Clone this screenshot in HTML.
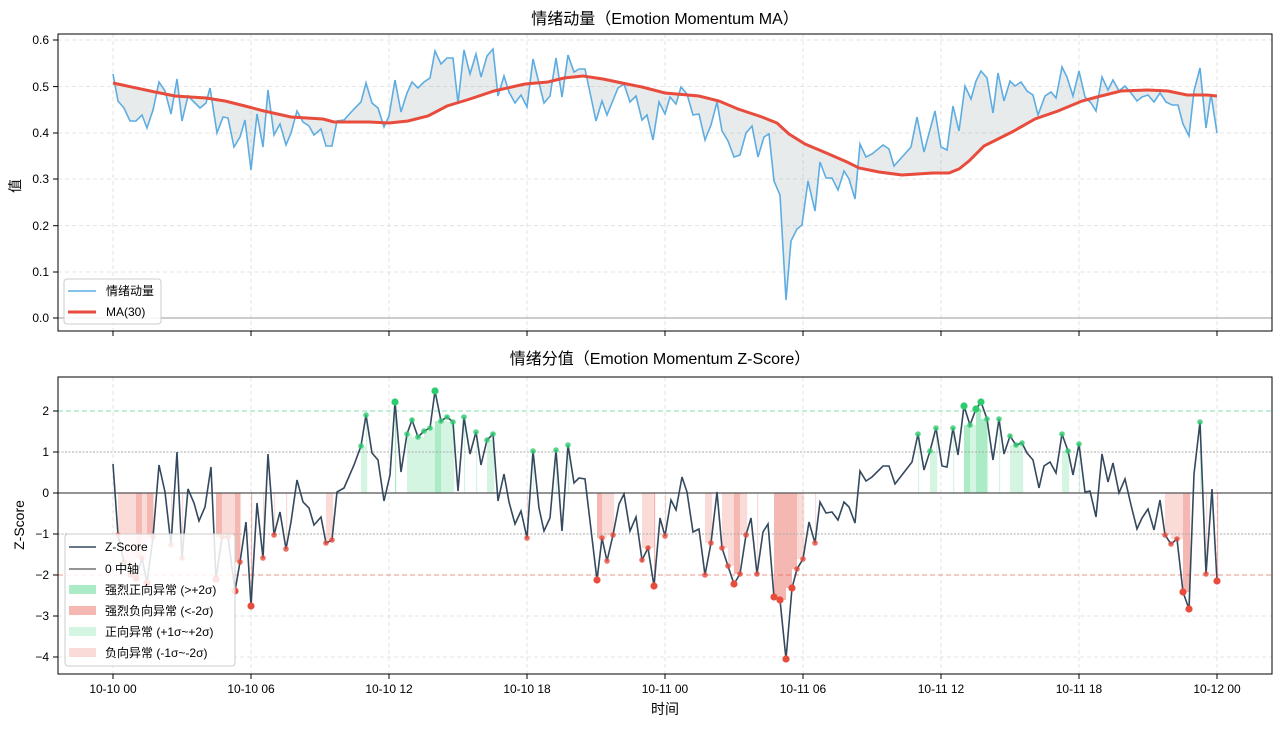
<!DOCTYPE html>
<html><head><meta charset="utf-8"><style>
body{margin:0;background:#fff;}
svg text{font-family:"Liberation Sans","Noto Sans CJK SC",sans-serif;fill:#000;}
</style></head><body>
<svg id="s" width="1280" height="727" xmlns="http://www.w3.org/2000/svg">
<rect width="1280" height="727" fill="#fff"/>
<g stroke="#ddd" stroke-dasharray="4,3" stroke-width="0.8">
<line x1="58" x2="1272" y1="40" y2="40"/><line x1="58" x2="1272" y1="86.6" y2="86.6"/><line x1="58" x2="1272" y1="133" y2="133"/><line x1="58" x2="1272" y1="179" y2="179"/><line x1="58" x2="1272" y1="225.7" y2="225.7"/><line x1="58" x2="1272" y1="272" y2="272"/>
<line x1="113" x2="113" y1="34" y2="331"/><line x1="251" x2="251" y1="34" y2="331"/><line x1="389" x2="389" y1="34" y2="331"/><line x1="527" x2="527" y1="34" y2="331"/><line x1="665" x2="665" y1="34" y2="331"/><line x1="803" x2="803" y1="34" y2="331"/><line x1="941" x2="941" y1="34" y2="331"/><line x1="1079" x2="1079" y1="34" y2="331"/><line x1="1217" x2="1217" y1="34" y2="331"/>
</g>
<line x1="58" x2="1272" y1="318" y2="318" stroke="#999" stroke-width="1"/>
<polygon id="fillTop" fill="#95a5a6" fill-opacity="0.22" points=""/>
<polyline id="blue" fill="none" stroke="#5dade2" stroke-width="1.6" points="113,74 118,101 124,108 130,121 136,121 142,115 147,128 153,110 159,82 165,91 171,114 177,79 182,121 188,96 194,102 200,108 206,103 210,88 217,133 223,117 228,118 234,147 240,137 245,120 251,170 257,114 263,147 268,90 274,135 280,124 286,145 291,133 297,111 303,122 309,126 314,135 321,129 326,146 332,146 337,121 344,120 354,109 361,102 366,83 372,103 378,108 384,127 389,116 395,80 401,112 407,93 412,82 418,88 424,82 430,78 435,51 441,64 447,58 453,58 458,103 464,50 470,74 476,54 481,77 487,56 493,49 498,96 504,76 509,92 515,103 521,95 527,107 533,59 544,103 550,96 556,58 562,97 568,55 574,72 579,69 585,69 596,121 602,101 607,115 618,88 624,84 630,102 636,96 642,120 647,115 653,140 659,102 665,114 670,97 676,104 681,87 687,94 693,115 699,114 705,140 711,125 717,102 722,131 728,141 734,157 740,155 746,133 752,126 758,157 764,137 769,134 774,181 780,195 786,300 791,241 797,229 802,225 808,181 815,211 820,162 826,178 832,178 838,190 844,171 849,179 855,199 860,144 866,157 872,154 883,145 889,149 894,166 911,147 917,117 924,152 935,111 941,147 947,150 953,106 959,131 965,86 971,99 976,81 981,71 987,78 993,113 998,73 1004,101 1010,81 1015,86 1021,82 1027,91 1033,95 1038,115 1045,96 1051,92 1056,98 1062,67 1067,77 1073,96 1079,71 1085,97 1091,103 1096,111 1102,77 1108,90 1113,80 1119,91 1125,86 1131,93 1137,101 1142,97 1148,95 1154,102 1160,93 1166,102 1172,105 1178,105 1183,124 1189,136 1194,91 1200,68 1206,128 1211,94 1217,133"/>
<polyline id="red" fill="none" stroke="#e74c3c" stroke-width="3" points="113,83 155,92 175,96 206,98 225,101 245,106 264,111 291,117 323,119 334,122 369,122 389,123 408,121 428,116 447,106 470,99 494,91 525,84 548,82 564,78 583,76 603,79 622,83 642,87 665,93 699,96 719,101 738,109 762,117 777,123 789,134 805,144 824,152 847,162 859,168 879,172 902,175 933,173 949,173 959,169 969,161 984,146 1012,132 1035,119 1058,111 1082,101 1097,97 1121,91 1148,90 1168,91 1187,95 1207,95 1217,96"/>
<rect x="58" y="34" width="1214" height="297" fill="none" stroke="#000" stroke-width="1"/>
<g font-size="12" text-anchor="end">
<text x="49" y="44">0.6</text><text x="49" y="91">0.5</text><text x="49" y="137">0.4</text><text x="49" y="183">0.3</text><text x="49" y="230">0.2</text><text x="49" y="276">0.1</text><text x="49" y="322">0.0</text>
</g>
<g stroke="#000"><line x1="53" x2="58" y1="40" y2="40"/><line x1="53" x2="58" y1="86.6" y2="86.6"/><line x1="53" x2="58" y1="133" y2="133"/><line x1="53" x2="58" y1="179" y2="179"/><line x1="53" x2="58" y1="225.7" y2="225.7"/><line x1="53" x2="58" y1="272" y2="272"/><line x1="53" x2="58" y1="318" y2="318"/>
<line x1="113" x2="113" y1="331" y2="336"/><line x1="251" x2="251" y1="331" y2="336"/><line x1="389" x2="389" y1="331" y2="336"/><line x1="527" x2="527" y1="331" y2="336"/><line x1="665" x2="665" y1="331" y2="336"/><line x1="803" x2="803" y1="331" y2="336"/><line x1="941" x2="941" y1="331" y2="336"/><line x1="1079" x2="1079" y1="331" y2="336"/><line x1="1217" x2="1217" y1="331" y2="336"/></g>
<text x="665" y="24" font-size="16" text-anchor="middle">情绪动量（Emotion Momentum MA）</text>
<text transform="translate(20,186) rotate(-90)" font-size="14" text-anchor="middle">值</text>
<rect x="64" y="279" width="97" height="45" rx="3" fill="#fff" fill-opacity="0.85" stroke="#ccc"/>
<line x1="68" x2="96" y1="291" y2="291" stroke="#5dade2" stroke-width="1.6"/>
<line x1="68" x2="96" y1="312" y2="312" stroke="#e74c3c" stroke-width="3"/>
<text x="106" y="295" font-size="12">情绪动量</text><text x="106" y="316" font-size="12">MA(30)</text>

<g stroke="#ddd" stroke-dasharray="4,3" stroke-width="0.8">
<line x1="58" x2="1272" y1="616" y2="616"/><line x1="58" x2="1272" y1="657" y2="657"/>
<line x1="113" x2="113" y1="377" y2="674"/><line x1="251" x2="251" y1="377" y2="674"/><line x1="389" x2="389" y1="377" y2="674"/><line x1="527" x2="527" y1="377" y2="674"/><line x1="665" x2="665" y1="377" y2="674"/><line x1="803" x2="803" y1="377" y2="674"/><line x1="941" x2="941" y1="377" y2="674"/><line x1="1079" x2="1079" y1="377" y2="674"/><line x1="1217" x2="1217" y1="377" y2="674"/>
</g>
<g id="bars"></g>
<line x1="58" x2="1272" y1="411" y2="411" stroke="#2ecc71" stroke-opacity="0.6" stroke-dasharray="5,3"/>
<line x1="58" x2="1272" y1="575" y2="575" stroke="#e74c3c" stroke-opacity="0.6" stroke-dasharray="5,3"/>
<line x1="58" x2="1272" y1="452" y2="452" stroke="#aaa" stroke-dasharray="2,1.5"/>
<line x1="58" x2="1272" y1="534" y2="534" stroke="#aaa" stroke-dasharray="2,1.5"/>
<line x1="58" x2="1272" y1="493" y2="493" stroke="#555" stroke-width="1.3"/>
<polyline id="z" fill="none" stroke="#34495e" stroke-width="1.6" points="113,464 118,535 124,562 130,575 136,578 142,558 147,583 153,537 159,465 165,492 171,545 177,452 182,558 188,489 194,503 199,521 205,507 211,467 216,579 222,537 228,537 235,591 240,562 246,522 251,606 257,503 263,558 268,454 274,535 280,512 286,549 291,522 297,480 303,502 309,508 314,525 321,517 326,543 332,540 337,492 344,488 354,465 361,446 366,415 372,453 378,460 384,501 390,475 395,402 401,472 407,434 412,420 418,437 424,431 430,428 435,391 441,421 447,417 453,422 458,491 464,417 470,454 476,432 481,465 487,440 493,434 498,501 504,474 509,502 515,524 521,511 527,538 533,451 539,508 544,531 550,518 556,450 562,531 568,445 574,483 579,478 585,479 597,580 602,538 607,561 613,535 619,504 624,494 630,531 636,517 642,560 648,548 654,586 660,518 665,536 671,500 676,510 682,477 687,492 693,532 699,529 705,575 711,543 717,492 722,548 728,566 734,584 740,574 746,535 751,518 757,574 763,532 768,524 774,597 780,600 786,659 792,588 797,569 803,559 809,522 815,543 820,502 826,513 832,512 838,520 844,502 849,507 855,523 860,471 866,481 872,477 883,466 889,466 895,484 912,462 918,434 924,470 930,451 936,428 942,466 947,467 953,428 958,455 964,406 970,425 976,409 981,402 987,419 993,460 999,419 1004,454 1010,436 1016,445 1022,443 1027,453 1033,460 1039,488 1044,466 1050,462 1056,473 1062,434 1068,451 1073,475 1079,444 1085,492 1090,491 1096,517 1102,454 1108,482 1113,463 1119,493 1125,479 1131,505 1137,529 1142,518 1148,509 1154,530 1160,500 1165,535 1171,544 1177,539 1183,592 1189,609 1194,474 1200,422 1206,574 1212,489 1217,581"/>
<g id="dots"></g>
<rect x="58" y="377" width="1214" height="297" fill="none" stroke="#000" stroke-width="1"/>
<g font-size="12" text-anchor="end">
<text x="49" y="415">2</text><text x="49" y="456">1</text><text x="49" y="497">0</text><text x="49" y="538">−1</text><text x="49" y="579">−2</text><text x="49" y="620">−3</text><text x="49" y="661">−4</text>
</g>
<g stroke="#000"><line x1="53" x2="58" y1="411" y2="411"/><line x1="53" x2="58" y1="452" y2="452"/><line x1="53" x2="58" y1="493" y2="493"/><line x1="53" x2="58" y1="534" y2="534"/><line x1="53" x2="58" y1="575" y2="575"/><line x1="53" x2="58" y1="616" y2="616"/><line x1="53" x2="58" y1="657" y2="657"/>
<line x1="113" x2="113" y1="674" y2="679"/><line x1="251" x2="251" y1="674" y2="679"/><line x1="389" x2="389" y1="674" y2="679"/><line x1="527" x2="527" y1="674" y2="679"/><line x1="665" x2="665" y1="674" y2="679"/><line x1="803" x2="803" y1="674" y2="679"/><line x1="941" x2="941" y1="674" y2="679"/><line x1="1079" x2="1079" y1="674" y2="679"/><line x1="1217" x2="1217" y1="674" y2="679"/></g>
<g font-size="12" text-anchor="middle">
<text x="113" y="693">10-10 00</text><text x="251" y="693">10-10 06</text><text x="389" y="693">10-10 12</text><text x="527" y="693">10-10 18</text><text x="665" y="693">10-11 00</text><text x="803" y="693">10-11 06</text><text x="941" y="693">10-11 12</text><text x="1079" y="693">10-11 18</text><text x="1217" y="693">10-12 00</text>
</g>
<text x="665" y="714" font-size="14" text-anchor="middle">时间</text>
<text x="660" y="364" font-size="16" text-anchor="middle">情绪分值（Emotion Momentum Z-Score）</text>
<text transform="translate(24,525) rotate(-90)" font-size="14" text-anchor="middle">Z-Score</text>
<rect x="65" y="534" width="170" height="132" rx="3" fill="#fff" fill-opacity="0.85" stroke="#ccc"/>
<line x1="69" x2="96" y1="547" y2="547" stroke="#34495e" stroke-width="1.6"/>
<line x1="69" x2="96" y1="569" y2="569" stroke="#555" stroke-width="1.3"/>
<rect x="69" y="585" width="27" height="9" fill="#2ecc71" fill-opacity="0.4"/>
<rect x="69" y="606" width="27" height="9" fill="#e74c3c" fill-opacity="0.4"/>
<rect x="69" y="627" width="27" height="9" fill="#2ecc71" fill-opacity="0.2"/>
<rect x="69" y="648" width="27" height="9" fill="#e74c3c" fill-opacity="0.2"/>
<g font-size="12"><text x="105" y="551">Z-Score</text><text x="105" y="573">0 中轴</text><text x="105" y="594">强烈正向异常 (&gt;+2σ)</text><text x="105" y="615">强烈负向异常 (&lt;-2σ)</text><text x="105" y="636">正向异常 (+1σ~+2σ)</text><text x="105" y="657">负向异常 (-1σ~-2σ)</text></g>
</svg>
<script>
(function(){
var NS="http://www.w3.org/2000/svg";
function pts(id){return document.getElementById(id).getAttribute("points").trim().split(/\s+/).map(function(p){return p.split(",").map(Number);});}
var b=pts("blue"),r=pts("red");
var s=b.map(function(p){return p.join(",");}).concat(r.slice().reverse().map(function(p){return p.join(",");}));
document.getElementById("fillTop").setAttribute("points",s.join(" "));
var z=pts("z"),bars=document.getElementById("bars"),dots=document.getElementById("dots");
for(var i=0;i<z.length;i++){
 var x=z[i][0],y=z[i][1];
 var w=i<z.length-1?z[i+1][0]-x:3;
 var col=null,op=0,big=false;
 if(y<452){col="#2ecc71";op=y<411?0.4:0.2;big=y<411;}
 else if(y>534){col="#e74c3c";op=y>575?0.4:0.2;big=y>575;}
 if(col){
  var nextIn=i<z.length-1&&((y<452&&z[i+1][1]<452)||(y>534&&z[i+1][1]>534));
  var rc=document.createElementNS(NS,"rect");
  rc.setAttribute("x",x);rc.setAttribute("width",nextIn?w:1.2);
  var yy=nextIn?(y<452?Math.max(y,z[i+1][1]):Math.min(y,z[i+1][1])):y;
  rc.setAttribute("y",Math.min(yy,493));rc.setAttribute("height",Math.abs(493-yy));
  rc.setAttribute("fill",col);rc.setAttribute("fill-opacity",op);bars.appendChild(rc);
  var c=document.createElementNS(NS,"circle");
  c.setAttribute("cx",x);c.setAttribute("cy",y);c.setAttribute("r",big?3.6:2.8);
  c.setAttribute("fill",col);c.setAttribute("fill-opacity",big?1:0.8);dots.appendChild(c);
 }
}
})();
</script>
</body></html>
